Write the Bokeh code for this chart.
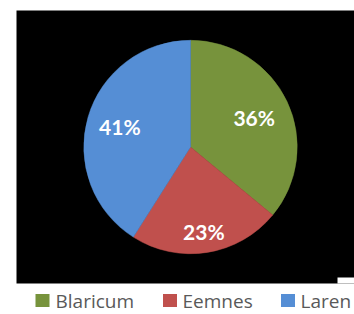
import math
from bokeh.plotting import figure
from bokeh.models import Range1d, ColumnDataSource
from bokeh.core.properties import value
from bokeh.embed import file_html
from bokeh.resources import INLINE

# ---- data ----
categories = ["Blaricum", "Eemnes", "Laren"]
percentages = [36, 23, 41]
colors = ["#77933C", "#C0504D", "#558ED5"]

# ---- layout ----
W, H = 354, 314
OX, OY = 0, 0
def fx(px):
    return px - OX
def fy(py):
    return H - (py - OY)

cx, cy, R = fx(190), fy(146.5), 106.7
label_dist = [0.66, 0.80, 0.69]
legend_sq_x = [fx(42), fx(169.5), fx(287.5)]
legend_txt_x = [fx(55), fx(182), fx(300)]
legend_y = fy(300)

total = sum(percentages)
starts, ends, lx, ly, labels = [], [], [], [], []
cum = 0.0
for i, v in enumerate(percentages):
    f0 = cum / total
    cum += v
    f1 = cum / total
    a0 = math.pi / 2 - f0 * 2 * math.pi
    a1 = math.pi / 2 - f1 * 2 * math.pi
    starts.append(a0)
    ends.append(a1)
    mid = (a0 + a1) / 2
    lx.append(cx + label_dist[i] * R * math.cos(mid))
    ly.append(cy + label_dist[i] * R * math.sin(mid))
    labels.append(f"{v}%")

src = ColumnDataSource(dict(cat=categories, start=starts, end=ends, color=colors,
                            lx=lx, ly=ly, label=labels,
                            sqx=legend_sq_x, txtx=legend_txt_x,
                            ly2=[legend_y] * len(categories)))

p = figure(width=W, height=H, output_backend="svg", toolbar_location=None,
           x_range=Range1d(0, W), y_range=Range1d(0, H), min_border=0)
p.axis.visible = False
p.grid.visible = False
p.outline_line_color = None
p.background_fill_color = "white"
p.border_fill_color = "white"

# black chart area
p.quad(left=[fx(16)], right=[W], bottom=[fy(283)], top=[fy(10)],
       fill_color="black", line_color=None)
p.quad(left=[fx(337)], right=[W], bottom=[fy(283)], top=[fy(277)],
       fill_color="white", line_color=None)

p.wedge(x=cx, y=cy, radius=R, start_angle="start", end_angle="end",
        direction="clock", fill_color="color", line_color="color",
        line_width=0.5, source=src)

p.text(x="lx", y="ly", text="label", source=src, text_color="white",
       text_font=value("Lato"), text_font_style="bold", text_font_size="21px",
       text_align="center", text_baseline="middle")

p.rect(x="sqx", y="ly2", width=14, height=13, fill_color="color",
       line_color=None, source=src)
p.text(x="txtx", y="ly2", text="cat", source=src, text_color="#595959",
       text_font=value("Open Sans"), text_font_size="19px",
       text_align="left", text_baseline="middle")

open("out.html", "w").write(file_html(p, INLINE))
